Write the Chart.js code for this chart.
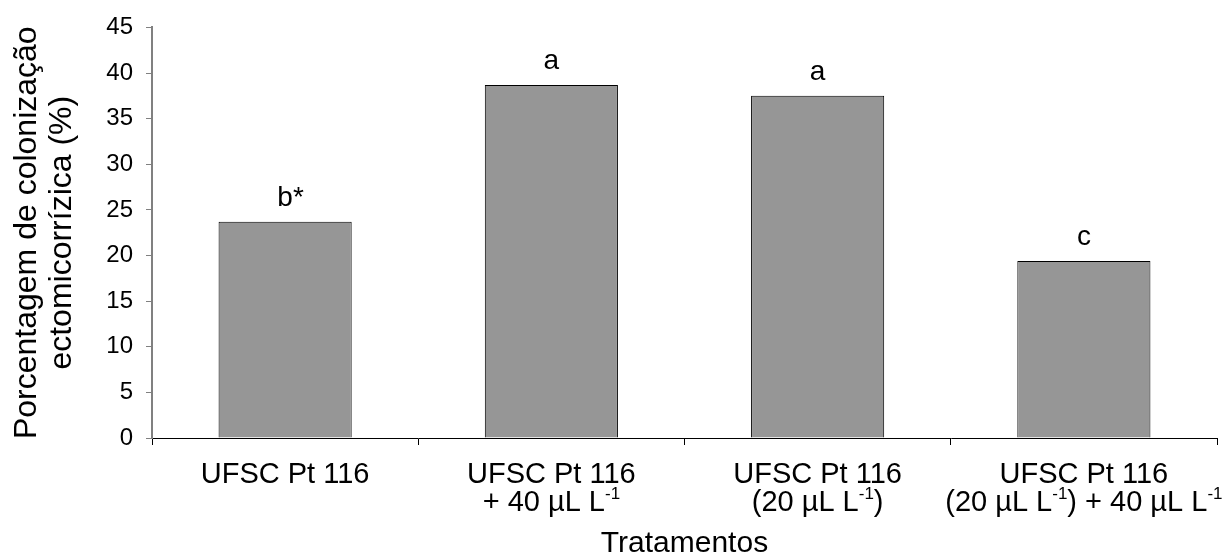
<!DOCTYPE html>
<html>
<head>
<meta charset="utf-8">
<script src="https://cdn.jsdelivr.net/npm/chart.js@4"></script>
<style>
  body { margin: 0; background: #fff; }
  canvas { display: block; }
</style>
</head>
<body>
<canvas id="colonChart" width="1231" height="559"></canvas>
<script>
// treatments, each label line; "^-1" marks a superscript
const treatments = [
  ["UFSC Pt 116"],
  ["UFSC Pt 116", "+ 40 µL L^-1"],
  ["UFSC Pt 116", "(20 µL L^-1)"],
  ["UFSC Pt 116", "(20 µL L^-1) + 40 µL L^-1"]
];
const colonization = [23.7, 38.7, 37.5, 19.4];
const letters = ["b*", "a", "a", "c"];
const yTicks = [0, 5, 10, 15, 20, 25, 30, 35, 40, 45];

const FONT = "'Liberation Sans', Arial, sans-serif";

// split a line into plain / superscript pieces
function pieces(line) {
  const out = [];
  line.split(/(\^-?\d+)/).forEach(p => {
    if (!p) return;
    if (p[0] === "^") out.push({ text: p.slice(1), sup: true });
    else out.push({ text: p, sup: false });
  });
  return out;
}

const labelPlugin = {
  id: "labelPlugin",
  afterDraw(chart) {
    const ctx = chart.ctx;
    const x = chart.scales.x;
    const y = chart.scales.y;
    ctx.save();
    ctx.fillStyle = "#000";
    ctx.textBaseline = "alphabetic";

    // category labels under the axis
    chart.data.labels.forEach((lines, i) => {
      const cx = x.getPixelForValue(i);
      lines.forEach((line, j) => {
        const parts = pieces(line);
        let total = 0;
        parts.forEach(p => {
          ctx.font = (p.sup ? "17px " : "29px ") + FONT;
          p.w = ctx.measureText(p.text).width;
          total += p.w;
        });
        let px = cx - total / 2;
        const base = x.top + 45 + j * 28;
        parts.forEach(p => {
          ctx.font = (p.sup ? "17px " : "29px ") + FONT;
          ctx.textAlign = "left";
          ctx.fillText(p.text, px, p.sup ? base - 12 : base);
          px += p.w;
        });
      });
    });

    // significance letters over the bars
    ctx.font = "28px " + FONT;
    ctx.textAlign = "left";
    chart.data.datasets[0].data.forEach((v, i) => {
      const cx = x.getPixelForValue(i);
      const txt = letters[i];
      const first = ctx.measureText(txt[0]).width;
      ctx.fillText(txt, cx - first / 2, y.getPixelForValue(v) - 16);
    });
    ctx.restore();
  }
};

new Chart(document.getElementById("colonChart"), {
  type: "bar",
  data: {
    labels: treatments,
    datasets: [{
      data: colonization,
      backgroundColor: "#969696",
      borderColor: "#000",
      borderWidth: 1,
      borderSkipped: "bottom",
      categoryPercentage: 1,
      barPercentage: 0.5
    }]
  },
  options: {
    responsive: false,
    animation: false,
    layout: { padding: { top: 25, right: 14, left: 0, bottom: 0 } },
    plugins: {
      legend: { display: false },
      tooltip: { enabled: false }
    },
    scales: {
      x: {
        afterFit(scale) { scale.height = 121; },
        grid: {
          display: true,
          offset: true,
          drawOnChartArea: false,
          drawTicks: true,
          tickLength: 7,
          color: "#000",
          lineWidth: 1
        },
        border: { display: true, color: "#000", width: 1 },
        ticks: { display: false },
        title: {
          display: true,
          text: "Tratamentos",
          color: "#000",
          font: { family: FONT, size: 30, lineHeight: 1 },
          padding: { top: 0, bottom: 0 }
        }
      },
      y: {
        min: 0,
        max: 45,
        afterFit(scale) { scale.width = 152; },
        afterBuildTicks(scale) { scale.ticks = yTicks.map(v => ({ value: v })); },
        grid: {
          drawOnChartArea: false,
          drawTicks: true,
          tickLength: 6,
          color: "#808080"
        },
        border: { display: true, color: "#808080", width: 2 },
        ticks: {
          color: "#000",
          padding: 13,
          font: { family: FONT, size: 24 }
        },
        title: {
          display: true,
          text: ["Porcentagem de colonização", "ectomicorrízica (%)"],
          color: "#000",
          font: { family: FONT, size: 32, lineHeight: 1.08 },
          padding: { top: 10, bottom: 0 }
        }
      }
    }
  },
  plugins: [labelPlugin]
});
</script>
</body>
</html>
